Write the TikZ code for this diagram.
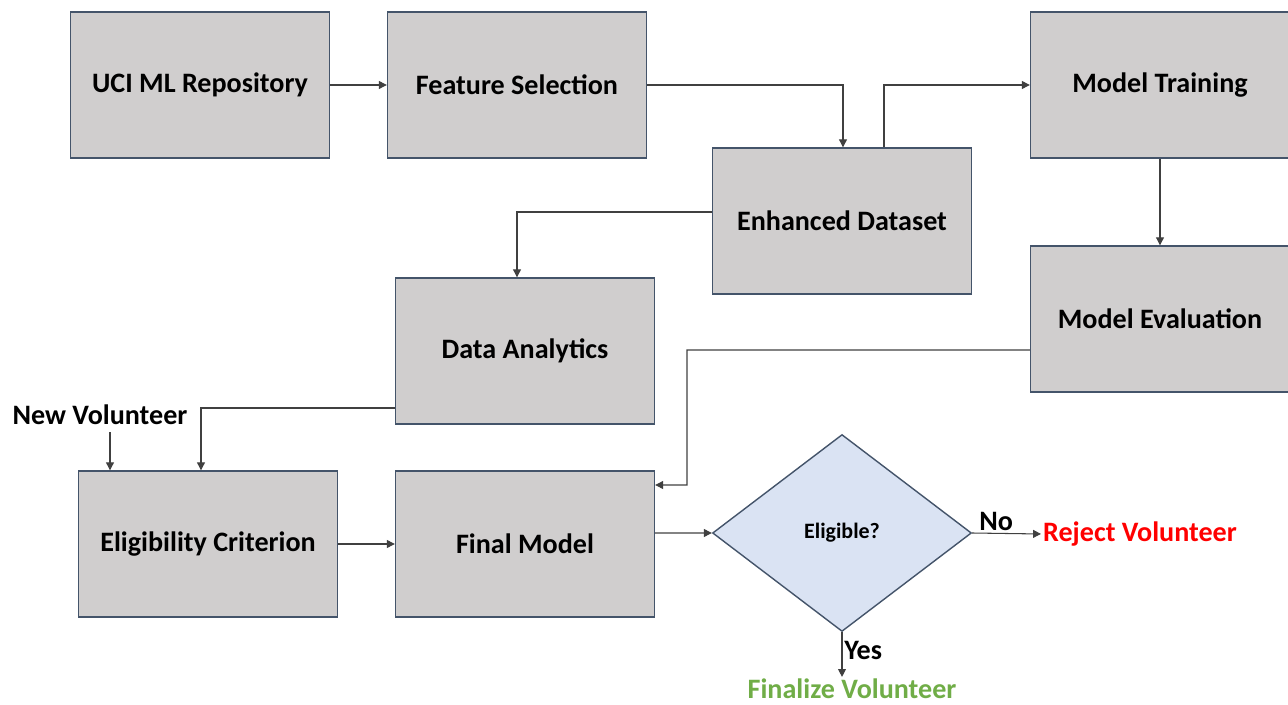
\documentclass[tikz,border=0pt]{standalone}
\usepackage{fontspec}
\setmainfont{Carlito}
\usetikzlibrary{arrows.meta,shapes.geometric}
\definecolor{boxgray}{HTML}{D0CECE}
\definecolor{boxline}{HTML}{44546A}
\definecolor{diafill}{HTML}{DAE3F3}
\definecolor{yesgreen}{HTML}{70AD47}
\begin{document}
\begin{tikzpicture}[x=0.02cm,y=0.02cm,
	stage/.style={rectangle,draw=boxline,fill=boxgray,line width=0.8pt,minimum width=5.18cm,minimum height=2.92cm,font=\fontsize{16}{19}\selectfont\bfseries},
	decide/.style={diamond,draw=boxline,fill=diafill,line width=0.8pt,minimum width=5.18cm,minimum height=3.94cm,inner sep=0pt,font=\fontsize{12.5}{15}\selectfont\bfseries},
	word/.style={font=\fontsize{16}{19}\selectfont\bfseries,inner sep=1pt},
	flow/.style={-{Triangle[width=4.5pt,length=4.5pt]},draw=black!75,line width=0.6pt}]

	\useasboundingbox (0,0) rectangle (1288,-705);

	\node[stage] (uci) at (200,-85) {UCI ML Repository};
	\node[stage] (feature) at (517,-85) {Feature Selection};
	\node[stage] (enhanced) at (842,-221) {Enhanced Dataset};
	\node[stage] (training) at (1160,-85) {Model Training};
	\node[stage] (evaluation) at (1160,-319) {Model Evaluation};
	\node[stage] (analytics) at (525,-351) {Data Analytics};
	\node[stage] (criterion) at (208,-544) {Eligibility Criterion};
	\node[stage] (final) at (525,-544) {Final Model};
	\node[decide] (eligible) at (842,-533) {Eligible?};

	\node[word] (newvol) at (100,-415) {New Volunteer};
	\node[word,text=red,anchor=west] (reject) at (1041,-534) {Reject Volunteer};
	\node[word,text=yesgreen] (finalize) at (852,-689) {Finalize Volunteer};

	\draw[flow] (uci) -- (feature);
	\draw[flow] (feature.east) -| ([xshift=0.02cm]enhanced.north);
	\draw[flow] ([xshift=0.84cm]enhanced.north) |- (training.west);
	\draw[flow] (training) -- (evaluation);
	\draw[flow] ([yshift=0.18cm]enhanced.west) -| ([xshift=-0.16cm]analytics.north);
	\draw[flow] ([yshift=-1.14cm]analytics.west) -| ([xshift=-0.14cm]criterion.north);
	\draw[flow] ([xshift=0.2cm,yshift=-0.1cm]newvol.south) -- ([xshift=0.2cm]newvol.south |- criterion.north);
	\draw[flow] ([yshift=-0.62cm]evaluation.west) -| (687,-485) -- ([yshift=1.18cm]final.east);
	\draw[flow] (criterion) -- (final);
	\draw[flow] ([yshift=0.22cm]final.east) -- (eligible.west);
	\draw[flow] (eligible.east) -- node[word,above,pos=0.35] {No} (reject.west);
	\draw[flow] (eligible.south) -- node[word,right,pos=0.4] {Yes} (finalize.north -| eligible.south);

\end{tikzpicture}
\end{document}
